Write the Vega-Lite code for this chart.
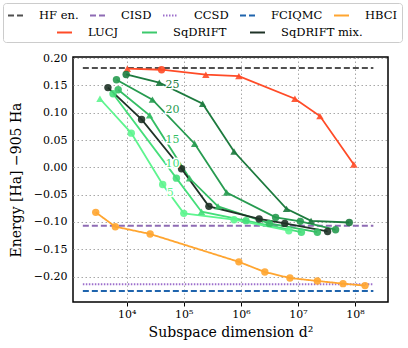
{
  "$schema": "https://vega.github.io/schema/vega-lite/v6.json",
  "width": 315,
  "height": 245,
  "autosize": "none",
  "padding": {"left": 73, "top": 57, "right": 20, "bottom": 46},
  "config": {
    "view": {"stroke": "#000000", "strokeWidth": 1.5},
    "font": "DejaVu Serif",
    "axis": {
      "domain": false,
      "grid": true,
      "gridDash": [1.5, 2.5],
      "gridColor": "#a8a8a8",
      "gridWidth": 1,
      "labelFont": "DejaVu Serif",
      "labelFontSize": 11,
      "labelColor": "#000000",
      "titleFont": "DejaVu Serif",
      "titleFontSize": 14,
      "titleFontWeight": "normal",
      "titleColor": "#000000"
    }
  },
  "datasets": {
    "refs": [
      {"series": "HF en.", "e": 0.182, "d0": 1700, "d1": 210000000},
      {"series": "CISD", "e": -0.1068, "d0": 1700, "d1": 210000000},
      {"series": "CCSD", "e": -0.214, "d0": 1700, "d1": 210000000},
      {"series": "FCIQMC", "e": -0.2264, "d0": 1700, "d1": 210000000}
    ],
    "pts": [
      {"series": "HBCI", "d": 2860, "e": -0.0824, "marker": "circle"},
      {"series": "HBCI", "d": 6310, "e": -0.1086, "marker": "circle"},
      {"series": "HBCI", "d": 25700, "e": -0.122, "marker": "circle"},
      {"series": "HBCI", "d": 922600, "e": -0.173, "marker": "circle"},
      {"series": "HBCI", "d": 2630000, "e": -0.1916, "marker": "circle"},
      {"series": "HBCI", "d": 7240000, "e": -0.2026, "marker": "circle"},
      {"series": "HBCI", "d": 21900000, "e": -0.208, "marker": "circle"},
      {"series": "HBCI", "d": 61700000, "e": -0.2129, "marker": "circle"},
      {"series": "HBCI", "d": 150000000, "e": -0.2165, "marker": "circle"},
      {"series": "LUCJ", "d": 10230, "e": 0.1806, "marker": "triangle"},
      {"series": "LUCJ", "d": 40740, "e": 0.1787, "marker": "circle"},
      {"series": "LUCJ", "d": 243200, "e": 0.1696, "marker": "triangle"},
      {"series": "LUCJ", "d": 922600, "e": 0.167, "marker": "triangle"},
      {"series": "LUCJ", "d": 8850000, "e": 0.1256, "marker": "triangle"},
      {"series": "LUCJ", "d": 24300000, "e": 0.0938, "marker": "triangle"},
      {"series": "LUCJ", "d": 95500000, "e": 0.0053, "marker": "triangle"},
      {"series": "SqDRIFT 25", "d": 9770, "e": 0.17, "marker": "circle"},
      {"series": "SqDRIFT 25", "d": 37150, "e": 0.155, "marker": "triangle"},
      {"series": "SqDRIFT 25", "d": 213800, "e": 0.1165, "marker": "triangle"},
      {"series": "SqDRIFT 25", "d": 758600, "e": 0.029, "marker": "triangle"},
      {"series": "SqDRIFT 25", "d": 6310000, "e": -0.076, "marker": "triangle"},
      {"series": "SqDRIFT 25", "d": 17000000, "e": -0.098, "marker": "triangle"},
      {"series": "SqDRIFT 25", "d": 79400000, "e": -0.101, "marker": "circle"},
      {"series": "SqDRIFT 20", "d": 6610, "e": 0.1604, "marker": "circle"},
      {"series": "SqDRIFT 20", "d": 28180, "e": 0.124, "marker": "triangle"},
      {"series": "SqDRIFT 20", "d": 154900, "e": 0.0432, "marker": "triangle"},
      {"series": "SqDRIFT 20", "d": 562300, "e": -0.046, "marker": "triangle"},
      {"series": "SqDRIFT 20", "d": 4070000, "e": -0.0916, "marker": "circle"},
      {"series": "SqDRIFT 20", "d": 11000000, "e": -0.0989, "marker": "circle"},
      {"series": "SqDRIFT 20", "d": 45700000, "e": -0.1141, "marker": "circle"},
      {"series": "SqDRIFT 15", "d": 7080, "e": 0.142, "marker": "circle"},
      {"series": "SqDRIFT 15", "d": 25120, "e": 0.0951, "marker": "triangle"},
      {"series": "SqDRIFT 15", "d": 125900, "e": -0.02, "marker": "triangle"},
      {"series": "SqDRIFT 15", "d": 398100, "e": -0.0714, "marker": "triangle"},
      {"series": "SqDRIFT 15", "d": 3160000, "e": -0.1026, "marker": "circle"},
      {"series": "SqDRIFT 15", "d": 21900000, "e": -0.1187, "marker": "circle"},
      {"series": "SqDRIFT 10", "d": 5750, "e": 0.1348, "marker": "circle"},
      {"series": "SqDRIFT 10", "d": 74130, "e": -0.0198, "marker": "circle"},
      {"series": "SqDRIFT 10", "d": 204200, "e": -0.0813, "marker": "triangle"},
      {"series": "SqDRIFT 10", "d": 1230000, "e": -0.0976, "marker": "circle"},
      {"series": "SqDRIFT 10", "d": 11500000, "e": -0.1187, "marker": "circle"},
      {"series": "SqDRIFT 5", "d": 3390, "e": 0.1256, "marker": "triangle"},
      {"series": "SqDRIFT 5", "d": 12020, "e": 0.0626, "marker": "circle"},
      {"series": "SqDRIFT 5", "d": 42660, "e": -0.0313, "marker": "circle"},
      {"series": "SqDRIFT 5", "d": 100000, "e": -0.0842, "marker": "circle"},
      {"series": "SqDRIFT 5", "d": 758600, "e": -0.0958, "marker": "circle"},
      {"series": "SqDRIFT 5", "d": 6920000, "e": -0.116, "marker": "circle"},
      {"series": "SqDRIFT mix.", "d": 4677, "e": 0.146, "marker": "circle"},
      {"series": "SqDRIFT mix.", "d": 18200, "e": 0.0877, "marker": "circle"},
      {"series": "SqDRIFT mix.", "d": 91200, "e": -0.0026, "marker": "circle"},
      {"series": "SqDRIFT mix.", "d": 275400, "e": -0.0714, "marker": "circle"},
      {"series": "SqDRIFT mix.", "d": 2090000, "e": -0.0945, "marker": "circle"},
      {"series": "SqDRIFT mix.", "d": 5890000, "e": -0.1026, "marker": "circle"},
      {"series": "SqDRIFT mix.", "d": 33100000, "e": -0.1173, "marker": "circle"}
    ],
    "labs": [
      {"series": "SqDRIFT 25", "d": 48000, "e": 0.151, "label": "25"},
      {"series": "SqDRIFT 20", "d": 48000, "e": 0.1055, "label": "20"},
      {"series": "SqDRIFT 15", "d": 48000, "e": 0.0506, "label": "15"},
      {"series": "SqDRIFT 10", "d": 48000, "e": 0.0066, "label": "10"},
      {"series": "SqDRIFT 5", "d": 50000, "e": -0.0476, "label": "5"}
    ]
  },
  "encoding": {
    "x": {
      "field": "d",
      "type": "quantitative",
      "scale": {"type": "log", "domain": [1143, 379000000], "nice": false},
      "axis": {
        "title": "Subspace dimension d²",
        "values": [10000, 100000, 1000000, 10000000, 100000000],
        "labelExpr": "'10' + ['⁰','¹','²','³','⁴','⁵','⁶','⁷','⁸','⁹'][round(log(datum.value)/LN10)]",
        "tickSize": 4,
        "tickColor": "#000000",
        "labelPadding": 2,
        "titlePadding": 6
      }
    },
    "y": {
      "field": "e",
      "type": "quantitative",
      "scale": {"domain": [-0.2465, 0.202], "nice": false, "zero": false},
      "axis": {
        "title": "Energy [Ha] −905 Ha",
        "values": [-0.2, -0.15, -0.1, -0.05, 0, 0.05, 0.1, 0.15, 0.2],
        "format": ".2f",
        "ticks": false,
        "labelPadding": 6,
        "titlePadding": 10
      }
    }
  },
  "layer": [
    {
      "data": {"name": "refs"},
      "mark": {"type": "rule", "strokeWidth": 2},
      "encoding": {
        "x": {"field": "d0", "type": "quantitative"},
        "x2": {"field": "d1"},
        "color": {
          "field": "series",
          "type": "nominal",
          "scale": {
            "domain": ["HF en.", "CISD", "CCSD", "FCIQMC", "HBCI"],
            "range": ["#505050", "#8e6bb4", "#9d6fcc", "#1f64ad", "#ffa530"]
          },
          "legend": {
            "orient": "none",
            "legendX": -70,
            "legendY": -54,
            "direction": "horizontal",
            "symbolType": "stroke",
            "symbolSize": 225,
            "symbolStrokeWidth": 2,
            "labelFont": "DejaVu Serif",
            "labelFontSize": 11.5,
            "labelColor": "#000000",
            "labelOffset": 15,
            "columnPadding": 7,
            "padding": 4,
            "strokeColor": "#cccccc",
            "fillColor": "#ffffff",
            "cornerRadius": 3,
            "title": " ",
            "titleOrient": "bottom",
            "titleFontSize": 14,
            "titlePadding": 3
          }
        },
        "strokeDash": {
          "field": "series",
          "type": "nominal",
          "scale": {
            "domain": ["HF en.", "CISD", "CCSD", "FCIQMC", "HBCI"],
            "range": [[6, 3], [6, 3], [1.5, 1.5], [6, 3], [1, 0]]
          },
          "legend": {"title": " "}
        }
      }
    },
    {
      "data": {"name": "pts"},
      "transform": [{"filter": "datum.series == 'HBCI'"}],
      "mark": {"type": "line", "strokeWidth": 1.8},
      "encoding": {
        "color": {"field": "series", "type": "nominal"},
        "strokeDash": {"field": "series", "type": "nominal"}
      }
    },
    {
      "data": {"name": "pts"},
      "transform": [{"filter": "datum.series != 'HBCI'"}],
      "mark": {"type": "line", "strokeWidth": 1.8},
      "encoding": {
        "stroke": {
          "field": "series",
          "type": "nominal",
          "scale": {
            "domain": ["LUCJ", "SqDRIFT", "SqDRIFT mix.", "SqDRIFT 5", "SqDRIFT 10", "SqDRIFT 15", "SqDRIFT 20", "SqDRIFT 25"],
            "range": ["#ff4b27", "#3cc96c", "#1f3327", "#5ef58f", "#45de7a", "#34be64", "#279b50", "#1d7a3e"]
          },
          "legend": {
            "orient": "none",
            "legendX": -17,
            "legendY": -33,
            "direction": "horizontal",
            "values": ["LUCJ", "SqDRIFT", "SqDRIFT mix."],
            "symbolType": "stroke",
            "symbolSize": 225,
            "symbolStrokeWidth": 2,
            "labelFont": "DejaVu Serif",
            "labelFontSize": 11.5,
            "labelColor": "#000000",
            "labelOffset": 15,
            "columnPadding": 19,
            "padding": 0,
            "title": null
          }
        }
      }
    },
    {
      "data": {"name": "pts"},
      "mark": {"type": "point", "filled": true, "opacity": 0.9, "size": 55},
      "encoding": {
        "fill": {
          "field": "series",
          "type": "nominal",
          "scale": {
            "domain": ["HBCI", "LUCJ", "SqDRIFT mix.", "SqDRIFT 5", "SqDRIFT 10", "SqDRIFT 15", "SqDRIFT 20", "SqDRIFT 25"],
            "range": ["#ffa530", "#ff4b27", "#1f3327", "#5ef58f", "#45de7a", "#34be64", "#279b50", "#1d7a3e"]
          },
          "legend": null
        },
        "shape": {
          "field": "marker",
          "type": "nominal",
          "scale": {"domain": ["circle", "triangle"], "range": ["circle", "triangle-up"]},
          "legend": null
        }
      }
    },
    {
      "data": {"name": "labs"},
      "mark": {"type": "text", "align": "left", "baseline": "middle", "fontSize": 11, "font": "DejaVu Serif", "stroke": "#ffffff", "strokeWidth": 3, "fill": "#ffffff"},
      "encoding": {"text": {"field": "label"}}
    },
    {
      "data": {"name": "labs"},
      "mark": {"type": "text", "align": "left", "baseline": "middle", "fontSize": 11, "font": "DejaVu Serif"},
      "encoding": {
        "text": {"field": "label"},
        "fill": {"field": "series", "type": "nominal", "legend": null}
      }
    }
  ]
}
